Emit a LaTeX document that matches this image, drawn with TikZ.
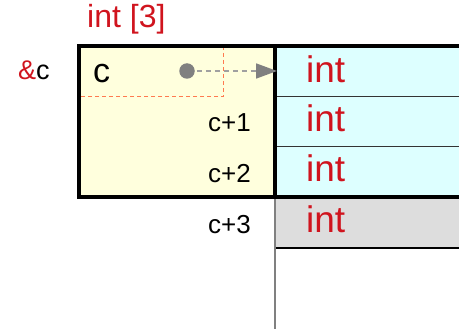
\documentclass[tikz,border=0pt]{standalone}
\usepackage{fontspec}
\setmainfont{Liberation Sans}
\usetikzlibrary{arrows.meta}
\definecolor{ared}{HTML}{D0141E}
\definecolor{yel}{HTML}{FFFFDD}
\definecolor{cyn}{HTML}{DDFFFF}
\definecolor{gry}{HTML}{DDDDDD}
\definecolor{ptr}{HTML}{808080}
\definecolor{ptrlight}{HTML}{A0A0A0}
\definecolor{salm}{HTML}{FF7A50}
\begin{document}
\begin{tikzpicture}[x=1pt,y=-1pt,
  typelbl/.style={inner sep=0pt, anchor=base west, font=\fontsize{37}{37}\selectfont, text=ared},
  offlbl/.style={inner sep=0pt, anchor=base east, font=\fontsize{26}{26}\selectfont},
  border/.style={line width=3.5pt},
  rowline/.style={line width=1pt, black!80},
  guide/.style={salm, line width=1pt, dash pattern=on 4pt off 3pt},
  ptrline/.style={ptrlight, line width=1.7pt, dash pattern=on 5pt off 4pt}]
\useasboundingbox (0,0) rectangle (459,329);
\fill[yel] (79,46) rectangle (275,197);
\fill[cyn] (275,46) rectangle (459,197);
\fill[gry] (275,197) rectangle (459,248);
\draw[rowline] (275,97) -- (459,97) (275,147) -- (459,147);
\draw[line width=1.2pt] (275,248) -- (459,248);
\draw[ptr, line width=1.5pt] (275,197) -- (275,329);
\draw[guide] (223,46) -- (223,97) -- (79,97);
\draw[border] (459,46) -| (79,197) -- (459,197);
\draw[border] (275,46) -- (275,197);
\node[circle, fill=ptr, minimum size=15.5pt, inner sep=0pt] (dot) at (187,71) {};
\coordinate (tip) at (277,71);
\draw[ptrline, shorten <=2pt, -{Triangle[length=21pt,width=15pt,color=ptr]}] (dot) -- (tip);
\node[inner sep=0pt, anchor=base west, font=\fontsize{32}{32}\selectfont, text=ared] (title) at (87,28) {int [3]};
\node[inner sep=0pt, anchor=base west, font=\fontsize{27}{27}\selectfont] (addr) at (18,80) {\textcolor{ared}{\&}c};
\node[inner sep=0pt, anchor=base west, font=\fontsize{34}{34}\selectfont] (cvar) at (93,83) {c};
\node[typelbl] (i0) at (306,83) {int};
\node[typelbl] (i1) at (306,132) {int};
\node[typelbl] (i2) at (306,182) {int};
\node[typelbl] (i3) at (306,233) {int};
\node[offlbl] (o1) at (251,132) {c+1};
\node[offlbl] (o2) at (251,183) {c+2};
\node[offlbl] (o3) at (251,234) {c+3};
\end{tikzpicture}
\end{document}
